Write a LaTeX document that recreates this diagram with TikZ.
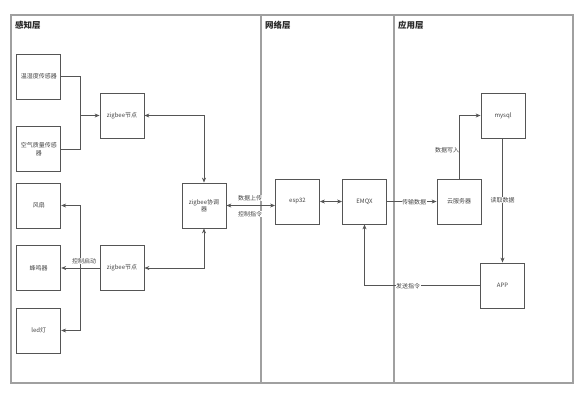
\documentclass[tikz,border=0pt]{standalone}
\usepackage{fontspec}
\setmainfont{Noto Sans CJK SC}
\usetikzlibrary{arrows.meta,calc}
\definecolor{framec}{HTML}{A0A0A0}
\definecolor{boxc}{HTML}{555555}
\definecolor{txtc}{HTML}{444444}
\tikzset{
  blk/.style={draw=boxc,line width=0.8pt,minimum width=44pt,minimum height=45pt,inner sep=1pt,
    font=\fontsize{6}{7.5}\selectfont,text=txtc,align=center,fill=white},
  conn/.style={draw=boxc,line width=0.7pt,-{Stealth[length=5pt,width=4pt]}},
  bconn/.style={draw=boxc,line width=0.7pt,{Stealth[length=5pt,width=4pt]}-{Stealth[length=5pt,width=4pt]}},
  plain/.style={draw=boxc,line width=0.7pt},
  lbl/.style={font=\fontsize{6}{7}\selectfont,text=txtc,inner sep=0.5pt},
  lblw/.style={lbl,fill=white},
  ttl/.style={font=\fontsize{8.5}{10}\selectfont\bfseries,text=black!85,anchor=west,inner sep=0pt},
  frm/.style={draw=framec,line width=1.1pt}
}
\begin{document}
\begin{tikzpicture}[x=1pt,y=-1pt]
\useasboundingbox (0,0) rectangle (582,400);
% frame
\draw[frm] (11,15) rectangle (573,383);
\draw[frm] (261,15) -- (261,383);
\draw[frm] (394,15) -- (394,383);
\node[ttl] (t1) at (15,25) {感知层};
\node[ttl] (t2) at (265,25) {网络层};
\node[ttl] (t3) at (398,25) {应用层};
% nodes
\node[blk] (s1) at (38.75,76.5) {温湿度传感器};
\node[blk] (s2) at (38.75,149) {空气质量传感\\器};
\node[blk] (f) at (38.75,205.5) {风扇};
\node[blk] (b) at (38.75,268) {蜂鸣器};
\node[blk] (l) at (38.75,330.5) {led灯};
\node[blk] (z1) at (122,115.5) {zigbee节点};
\node[blk] (z2) at (122,268) {zigbee节点};
\node[blk] (c) at (204,205.5) {zigbee协调\\器};
\node[blk] (e) at (297.5,201.5) {esp32};
\node[blk] (m) at (364.5,201.5) {EMQX};
\node[blk] (y) at (459,201.5) {云服务器};
\node[blk] (q) at (503,115.5) {mysql};
\node[blk] (a) at (502.5,285.5) {APP};
\coordinate (jl) at (80,0);
% connectors
\draw[plain] (s1.east) -- (s1.east -| jl) -- (z1.west -| jl);
\draw[conn] (s2.east) -- (s2.east -| jl) -- (z1.west -| jl) -- (z1.west);
\draw[bconn] (z1.east) -| (c.north);
\draw[bconn] (z2.east) -| (c.south);
\draw[conn] (z2.west) -- (b.east);
\draw[bconn] (f.east) -- (f.east -| jl) -- (l.east -| jl) -- (l.east);
\node[lbl,fill=white] (lb1) at (84,261) {控制启动};
\draw[bconn] (c.east) -- (c.east -| e.west);
\node[lblw] (lb2) at (250,198) {数据上传};
\node[lblw] (lb3) at (250,214) {控制指令};
\draw[bconn] (e.east) -- (m.west);
\draw[conn] (m.east) -- (y.west);
\node[lblw] (lb4) at (414,202) {传输数据};
\draw[conn] (y.north) |- (q.west);
\node[lbl] (lb5) at (447,150) {数据写入};
\draw[conn] (q.south -| a.north) -- (a.north);
\node[lblw] (lb6) at (502.5,200) {读取数据};
\draw[conn] (a.west) -| (m.south);
\node[lblw] (lb7) at (408,286) {发送指令};
\end{tikzpicture}
\end{document}
